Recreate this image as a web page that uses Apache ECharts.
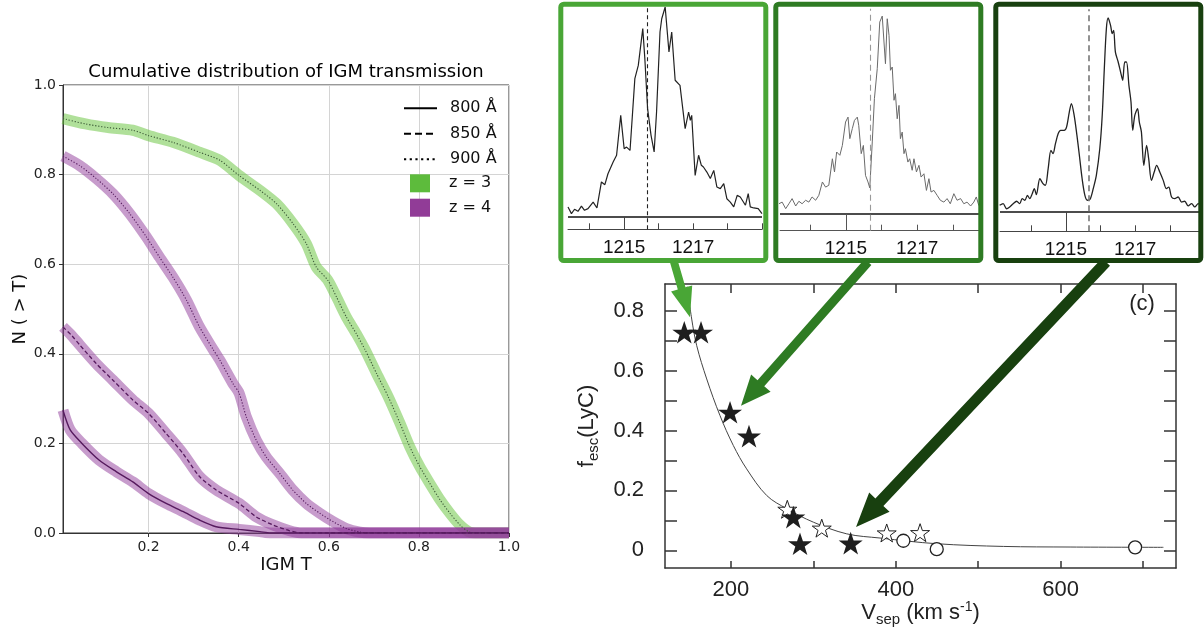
<!DOCTYPE html>
<html><head><meta charset="utf-8">
<script src="https://cdn.jsdelivr.net/npm/echarts@6/dist/echarts.min.js"></script>
<style>html,body{margin:0;padding:0;background:#fff}#c{width:1204px;height:639px}</style>
</head><body><div id="c"></div>
<script>
// ---------- Left panel: cumulative distribution of IGM transmission ----------
const xTicksLeft = [0.2, 0.4, 0.6, 0.8, 1.0];
const T_z3_900 = [0.01, 0.06, 0.11, 0.165, 0.2, 0.254, 0.313, 0.358, 0.401, 0.447, 0.484, 0.521, 0.55, 0.572, 0.598, 0.617, 0.639, 0.661, 0.68, 0.706, 0.732, 0.758, 0.78, 0.802, 0.824, 0.847, 0.869, 0.891, 0.91, 0.925, 1.0];
const N_z3_900 = [0.925, 0.913, 0.905, 0.899, 0.887, 0.872, 0.85, 0.832, 0.798, 0.765, 0.735, 0.69, 0.646, 0.594, 0.564, 0.527, 0.482, 0.445, 0.41, 0.356, 0.304, 0.245, 0.192, 0.148, 0.111, 0.074, 0.044, 0.018, 0.003, 0, 0];
const T_z4_900 = [0.01, 0.047, 0.084, 0.121, 0.158, 0.195, 0.224, 0.254, 0.284, 0.313, 0.343, 0.358, 0.387, 0.401, 0.417, 0.439, 0.461, 0.491, 0.52, 0.55, 0.58, 0.61, 0.639, 0.669, 0.69, 1.0];
const N_z4_900 = [0.841, 0.82, 0.791, 0.757, 0.713, 0.661, 0.616, 0.571, 0.52, 0.46, 0.41, 0.386, 0.334, 0.312, 0.259, 0.207, 0.17, 0.133, 0.096, 0.066, 0.044, 0.025, 0.01, 0.002, 0, 0];
const T_z4_850 = [0.01, 0.03, 0.047, 0.084, 0.121, 0.165, 0.2, 0.239, 0.276, 0.313, 0.35, 0.401, 0.439, 0.476, 0.513, 0.54, 1.0];
const N_z4_850 = [0.46, 0.44, 0.42, 0.378, 0.341, 0.297, 0.267, 0.222, 0.178, 0.126, 0.096, 0.066, 0.036, 0.018, 0.005, 0, 0];
const T_z4_800 = [0.01, 0.026, 0.052, 0.09, 0.128, 0.165, 0.2, 0.239, 0.276, 0.313, 0.35, 0.401, 0.447, 0.47, 1.0];
const N_z4_800 = [0.274, 0.23, 0.2, 0.163, 0.137, 0.114, 0.088, 0.066, 0.048, 0.029, 0.014, 0.008, 0.003, 0, 0];

// ---------- Right panel: f_esc vs V_sep ----------
const vTicks = [200, 300, 400, 500, 600, 700];
const vLabels = [200, 400, 600];
const fTicks = [0, 0.1, 0.2, 0.3, 0.4, 0.5, 0.6, 0.7, 0.8];
const fLabels = [0, 0.2, 0.4, 0.6, 0.8];
const V_filled = [143.4, 163.7, 198.9, 221.9, 275.7, 283.8, 345.3];
const F_filled = [0.728, 0.728, 0.461, 0.381, 0.111, 0.022, 0.024];
const V_open = [268.4, 310.2, 389.0, 429.5];
const F_open = [0.137, 0.074, 0.058, 0.059];
const V_circ = [409.2, 449.7, 690.4];
const F_circ = [0.032, 0.004, 0.01];
const V_fit = [147, 152.4, 158.5, 170.6, 186.7, 202.9, 219, 243.4, 267.7, 300, 340.5, 381, 449.7, 530.6, 611.5, 724.7];
const F_fit = [0.88, 0.772, 0.683, 0.572, 0.45, 0.35, 0.272, 0.183, 0.139, 0.094, 0.055, 0.041, 0.022, 0.013, 0.011, 0.010];
const arrowTargets = [[150.3, 0.778], [212.2, 0.483], [351.8, 0.078]];

// ---------- Inset spectra (wavelength in Å, normalised flux) ----------
const lyaLine = 1215.67;
const specTickLabels = [1215, 1217];
const wl1 = [1213.37,1213.47,1213.56,1213.66,1213.76,1213.85,1213.95,1214.10,1214.21,1214.34,1214.44,1214.53,1214.68,1214.78,1214.90,1215.00,1215.07,1215.17,1215.21,1215.31,1215.41,1215.54,1215.60,1215.68,1215.78,1215.87,1215.94,1216.04,1216.09,1216.19,1216.24,1216.30,1216.38,1216.48,1216.62,1216.77,1216.87,1216.92,1216.96,1217.06,1217.16,1217.24,1217.30,1217.40,1217.50,1217.60,1217.69,1217.79,1217.89,1217.98,1218.08,1218.18,1218.28,1218.37,1218.42,1218.52,1218.60,1218.66,1218.76,1218.89,1219.00];
const fl1 = [0.048,0.016,0.037,0.027,0.052,0.032,0.040,0.071,0.043,0.167,0.154,0.206,0.262,0.294,0.484,0.325,0.333,0.317,0.325,0.659,0.722,0.897,0.754,0.516,0.389,0.310,0.5,0.881,0.944,1.0,0.992,0.786,0.881,0.651,0.627,0.421,0.5,0.460,0.484,0.198,0.294,0.246,0.238,0.214,0.183,0.222,0.143,0.135,0.159,0.087,0.071,0.048,0.103,0.095,0.087,0.056,0.111,0.048,0.043,0.040,0.016];
const wl2 = [1213.12,1213.21,1213.31,1213.40,1213.49,1213.59,1213.68,1213.77,1213.87,1213.96,1214.05,1214.15,1214.24,1214.34,1214.43,1214.52,1214.62,1214.68,1214.74,1214.83,1214.90,1214.99,1215.06,1215.11,1215.18,1215.24,1215.32,1215.36,1215.43,1215.49,1215.55,1215.62,1215.67,1215.74,1215.80,1215.88,1215.95,1216.02,1216.07,1216.11,1216.16,1216.21,1216.25,1216.30,1216.35,1216.39,1216.44,1216.49,1216.53,1216.58,1216.63,1216.67,1216.74,1216.79,1216.86,1216.91,1216.98,1217.05,1217.11,1217.19,1217.26,1217.33,1217.39,1217.47,1217.56,1217.65,1217.75,1217.84,1217.93,1218.03,1218.12,1218.22,1218.31,1218.40,1218.50,1218.59,1218.66,1218.73,1218.82];
const fl2 = [0.050,0.058,0.026,0.050,0.075,0.039,0.062,0.050,0.067,0.058,0.083,0.067,0.091,0.156,0.131,0.140,0.269,0.205,0.302,0.286,0.334,0.448,0.472,0.367,0.416,0.456,0.472,0.432,0.294,0.334,0.188,0.156,0.127,0.351,0.562,0.708,0.935,0.964,0.968,0.732,0.951,0.870,0.700,0.716,0.554,0.586,0.464,0.529,0.367,0.399,0.294,0.318,0.253,0.269,0.213,0.269,0.205,0.237,0.180,0.196,0.115,0.172,0.107,0.115,0.091,0.067,0.058,0.075,0.050,0.099,0.067,0.075,0.050,0.058,0.039,0.058,0.083,0.042,0.039];
const wl3 = [1213.09,1213.19,1213.29,1213.38,1213.48,1213.58,1213.67,1213.74,1213.82,1213.89,1213.96,1214.03,1214.09,1214.15,1214.25,1214.34,1214.41,1214.49,1214.57,1214.63,1214.70,1214.78,1214.85,1214.95,1215.02,1215.10,1215.16,1215.24,1215.32,1215.39,1215.47,1215.55,1215.62,1215.70,1215.79,1215.88,1215.98,1216.05,1216.11,1216.17,1216.22,1216.29,1216.34,1216.38,1216.43,1216.51,1216.59,1216.64,1216.70,1216.75,1216.82,1216.88,1216.93,1216.99,1217.07,1217.12,1217.18,1217.25,1217.33,1217.39,1217.47,1217.55,1217.62,1217.71,1217.81,1217.90,1217.97,1218.05,1218.14,1218.24,1218.34,1218.43,1218.53,1218.63,1218.72,1218.82,1218.90];
const fl3 = [0.033,0.041,0.016,0.025,0.041,0.053,0.041,0.066,0.058,0.082,0.066,0.090,0.115,0.086,0.164,0.140,0.132,0.214,0.304,0.288,0.337,0.387,0.403,0.403,0.419,0.493,0.535,0.477,0.378,0.280,0.164,0.082,0.058,0.063,0.115,0.181,0.313,0.477,0.707,0.905,0.957,0.921,0.880,0.896,0.789,0.740,0.683,0.650,0.740,0.740,0.625,0.543,0.403,0.477,0.510,0.444,0.395,0.230,0.329,0.263,0.156,0.197,0.230,0.197,0.156,0.115,0.123,0.074,0.066,0.074,0.049,0.053,0.030,0.041,0.025,0.041,0.030];

// ---------------------------------------------------------------
const zip = (a, b) => a.map((v, i) => [v, b[i]]);
const LF = 'DejaVu Sans';
const RF = "'Liberation Sans', Arial, sans-serif";
const GREEN_BAND = '#61c135', PURPLE_BAND = '#8f3999';
const PURPLE_LINE = '#561a5e', GREEN_LINE = '#3b5836';
const BOX = ['#49a636', '#2e7b23', '#18400f'];
const STAR = 'path://M50,0 L61.8,35.1 L98.1,35.1 L68.8,56.7 L79.4,90.9 L50,69.5 L20.6,90.9 L31.2,56.7 L1.9,35.1 L38.2,35.1 Z';

const chart = echarts.init(document.getElementById('c'), null, { renderer: 'canvas' });

function band(name, T, N, color) {
  return { type: 'line', name: name, xAxisIndex: 0, yAxisIndex: 0, data: zip(T, N), symbol: 'none', smooth: 0.25,
    lineStyle: { color: color, width: 11, opacity: 0.5, cap: 'butt', join: 'round' }, z: 2, silent: true };
}
function center(name, T, N, color, type, w) {
  return { type: 'line', name: name, xAxisIndex: 0, yAxisIndex: 0, data: zip(T, N), symbol: 'none', smooth: 0.25,
    lineStyle: { color: color, width: w, type: type }, z: 3, silent: true };
}

const insets = [
  { wl: wl1, fl: fl1, left: 568, width: 194, top: 7, height: 222.3, min: 1213.37, max: 1219.0, ymin: -0.0586,
    ticks: [1214, 1215, 1216, 1217, 1218, 1219], line: '#222', lw: 1.2, dash: '#222', dashType: [4, 3], dw: 1.1, axis: '#444', smooth: false },
  { wl: wl2, fl: fl2, left: 780, width: 202, top: 8.7, height: 222, min: 1213.15, max: 1218.82, ymin: -0.0813,
    ticks: [1214, 1215, 1216, 1217, 1218], line: '#6a6a6a', lw: 1, dash: '#9a9a9a', dashType: [6, 4], dw: 1.1, axis: '#555', smooth: false },
  { wl: wl3, fl: fl3, left: 1000, width: 201, top: 9.3, height: 222, min: 1213.1, max: 1218.9, ymin: -0.0952,
    ticks: [1214, 1215, 1216, 1217, 1218], line: '#222', lw: 1.3, dash: '#777', dashType: [6, 4], dw: 1.6, axis: '#444', smooth: 0.3 }
];

const grids = [
  { left: 63, top: 85, width: 446, height: 448, show: true, borderColor: '#333', borderWidth: 1, outerBoundsMode: 'none' },
  { left: 665, top: 284, width: 511, height: 284, outerBoundsMode: 'none' }
];
const xAxes = [
  { type: 'value', gridIndex: 0, min: 0.01, max: 1.0,
    axisLine: { show: true, onZero: false, lineStyle: { color: '#333' } },
    axisTick: { show: true, length: 4, customValues: xTicksLeft, lineStyle: { color: '#333' } },
    axisLabel: { customValues: xTicksLeft, formatter: v => v.toFixed(1), fontSize: 14, color: '#222', fontFamily: LF, margin: 7 },
    splitLine: { show: true, lineStyle: { color: '#d4d4d4' } },
    name: 'IGM T', nameLocation: 'middle', nameGap: 23, nameMoveOverlap: false,
    nameTextStyle: { fontSize: 18, color: '#111', fontFamily: LF } },
  { type: 'value', gridIndex: 1, min: 120, max: 740, position: 'bottom',
    axisLine: { show: true, onZero: false, lineStyle: { color: '#333', width: 1.5 } },
    axisTick: { show: true, inside: true, length: 7, customValues: vTicks, lineStyle: { color: '#333', width: 1.5 } },
    axisLabel: { customValues: vLabels, fontSize: 22, color: '#222', fontFamily: RF, margin: 11 },
    splitLine: { show: false },
    name: '{a|V}{s|sep}{a| (km s}{p|-1}{a|)}', nameLocation: 'middle', nameGap: 31, nameMoveOverlap: false,
    nameTextStyle: { color: '#222', fontFamily: RF, rich: {
      a: { fontSize: 22, fontFamily: RF, color: '#222' },
      s: { fontSize: 15, fontFamily: RF, color: '#222', padding: [13, 0, 0, 0] },
      p: { fontSize: 14, fontFamily: RF, color: '#222', padding: [0, 0, 12, 0] } } } },
  { type: 'value', gridIndex: 1, min: 120, max: 740, position: 'top',
    axisLine: { show: true, onZero: false, lineStyle: { color: '#333', width: 1.5 } },
    axisTick: { show: true, inside: true, length: 9, customValues: vTicks, lineStyle: { color: '#333', width: 1.5 } },
    axisLabel: { show: false }, splitLine: { show: false } }
];
const yAxes = [
  { type: 'value', gridIndex: 0, min: 0, max: 1, interval: 0.2,
    axisLine: { show: true, onZero: false, lineStyle: { color: '#333' } },
    axisTick: { show: true, length: 4, lineStyle: { color: '#333' } },
    axisLabel: { formatter: v => v.toFixed(1), fontSize: 14, color: '#222', fontFamily: LF, margin: 7 },
    splitLine: { show: true, lineStyle: { color: '#d4d4d4' } },
    name: 'N ( > T)', nameLocation: 'middle', nameGap: 34, nameRotate: 90, nameMoveOverlap: false,
    nameTextStyle: { fontSize: 18, color: '#111', fontFamily: LF } },
  { type: 'value', gridIndex: 1, min: -0.059, max: 0.889, position: 'left',
    axisLine: { show: true, onZero: false, lineStyle: { color: '#333', width: 1.5 } },
    axisTick: { show: true, inside: true, length: 12, customValues: fTicks, lineStyle: { color: '#333', width: 1.5 } },
    axisLabel: { customValues: fLabels, formatter: v => (v === 0 ? '0' : v.toFixed(1)), fontSize: 22, color: '#222', fontFamily: RF, margin: 21 },
    splitLine: { show: false },
    name: '{a|f}{s|esc}{a|(LyC)}', nameLocation: 'middle', nameGap: 64, nameRotate: 90, nameMoveOverlap: false,
    nameTextStyle: { color: '#222', fontFamily: RF, rich: {
      a: { fontSize: 22, fontFamily: RF, color: '#222' },
      s: { fontSize: 15, fontFamily: RF, color: '#222', padding: [13, 0, 0, 0] } } } },
  { type: 'value', gridIndex: 1, min: -0.059, max: 0.889, position: 'right',
    axisLine: { show: true, onZero: false, lineStyle: { color: '#333', width: 1.5 } },
    axisTick: { show: true, inside: true, length: 12, customValues: fTicks, lineStyle: { color: '#333', width: 1.5 } },
    axisLabel: { show: false }, splitLine: { show: false } }
];

const series = [
  // legend-only entries
  { type: 'line', name: '800 Å', data: [], symbol: 'none', xAxisIndex: 0, yAxisIndex: 0, lineStyle: { color: '#000', width: 2.6, type: 'solid' }, itemStyle: { color: '#000' } },
  { type: 'line', name: '850 Å', data: [], symbol: 'none', xAxisIndex: 0, yAxisIndex: 0, lineStyle: { color: '#000', width: 2.6, type: [7, 4] }, itemStyle: { color: '#000' } },
  { type: 'line', name: '900 Å', data: [], symbol: 'none', xAxisIndex: 0, yAxisIndex: 0, lineStyle: { color: '#000', width: 2.6, type: [2.2, 3.5] }, itemStyle: { color: '#000' } },
  { type: 'line', name: 'z = 3', data: [], symbol: 'none', xAxisIndex: 0, yAxisIndex: 0, lineStyle: { color: '#5dbb3c' }, itemStyle: { color: '#5dbb3c' } },
  { type: 'line', name: 'z = 4', data: [], symbol: 'none', xAxisIndex: 0, yAxisIndex: 0, lineStyle: { color: '#913c97' }, itemStyle: { color: '#913c97' } },
  band('z3 900 band', T_z3_900, N_z3_900, GREEN_BAND),
  band('z4 900 band', T_z4_900, N_z4_900, PURPLE_BAND),
  band('z4 850 band', T_z4_850, N_z4_850, PURPLE_BAND),
  band('z4 800 band', T_z4_800, N_z4_800, PURPLE_BAND),
  center('z3 900', T_z3_900, N_z3_900, GREEN_LINE, [1.2, 1.8], 1.1),
  center('z4 900', T_z4_900, N_z4_900, PURPLE_LINE, [1.2, 1.8], 1.1),
  center('z4 850', T_z4_850, N_z4_850, PURPLE_LINE, [4, 2.5], 1.3),
  center('z4 800', T_z4_800, N_z4_800, PURPLE_LINE, 'solid', 1.4),
  { type: 'line', name: 'fit', xAxisIndex: 1, yAxisIndex: 1, data: zip(V_fit, F_fit), smooth: 0.35, symbol: 'none',
    lineStyle: { color: '#444', width: 1 }, z: 2, silent: true },
  { type: 'scatter', name: 'open stars', xAxisIndex: 1, yAxisIndex: 1, data: zip(V_open, F_open), symbol: STAR, symbolSize: 19,
    symbolKeepAspect: true, itemStyle: { color: '#fff', borderColor: '#222', borderWidth: 1, opacity: 1 }, z: 3 },
  { type: 'scatter', name: 'circles', xAxisIndex: 1, yAxisIndex: 1, data: zip(V_circ, F_circ), symbol: 'circle', symbolSize: 13,
    itemStyle: { color: '#fff', borderColor: '#222', borderWidth: 1.3, opacity: 1 }, z: 3 },
  { type: 'scatter', name: 'filled stars', xAxisIndex: 1, yAxisIndex: 1, data: zip(V_filled, F_filled), symbol: STAR, symbolSize: 24,
    symbolKeepAspect: true, itemStyle: { color: '#1e1e1e', opacity: 1 }, z: 4 }
];

insets.forEach((s, i) => {
  const gi = 2 + i, ai = 3 + i;
  grids.push({ left: s.left, top: s.top, width: s.width, height: s.height, outerBoundsMode: 'none' });
  xAxes.push({ type: 'value', gridIndex: gi, min: s.min, max: s.max,
    axisLine: { show: true, onZero: false, lineStyle: { color: s.axis, width: 1 } },
    axisTick: { show: true, inside: true, length: 6, customValues: s.ticks, lineStyle: { color: s.axis, width: 1 } },
    axisLabel: { customValues: specTickLabels, formatter: v => String(Math.round(v)), fontSize: 19, color: '#111', fontFamily: RF, margin: 9 },
    splitLine: { show: false } });
  yAxes.push({ type: 'value', gridIndex: gi, min: s.ymin, max: 1, show: false, splitLine: { show: false } });
  series.push({ type: 'line', name: 'spectrum ' + (i + 1), xAxisIndex: ai, yAxisIndex: ai, data: zip(s.wl, s.fl),
    symbol: 'none', smooth: s.smooth, lineStyle: { color: s.line, width: s.lw }, silent: true, z: 3,
    markLine: { silent: true, symbol: ['none', 'none'], label: { show: false }, animation: false,
      data: [
        { yAxis: 0, lineStyle: { color: '#111', width: 1.5, type: 'solid' } },
        { xAxis: lyaLine, lineStyle: { color: s.dash, width: s.dw, type: s.dashType } },
        [{ coord: [1215, s.ymin], lineStyle: { color: s.axis, width: 1, type: 'solid' } }, { coord: [1215, 0] }]
      ] } });
});

const option = {
  backgroundColor: '#fff',
  animation: false,
  title: [
    { text: 'Cumulative distribution of IGM transmission', left: 286, textAlign: 'center', top: 63, padding: 0,
      textStyle: { fontSize: 18, fontWeight: 'normal', fontFamily: LF, color: '#000' } },
    { text: '(c)', left: 1142, textAlign: 'center', top: 293, padding: 0,
      textStyle: { fontSize: 22, fontWeight: 'normal', fontFamily: RF, color: '#222' } }
  ],
  legend: [
    { orient: 'vertical', left: 403, top: 100.3, padding: 0, itemWidth: 33, itemHeight: 14, itemGap: 9.5, selectedMode: false,
      itemStyle: { color: 'rgba(0,0,0,0)', borderWidth: 0, opacity: 0 },
      data: ['800 Å', '850 Å', '900 Å'],
      textStyle: { fontSize: 16, fontFamily: LF, color: '#111', padding: [0, 0, 0, 8] } },
    { orient: 'vertical', left: 410, top: 174.3, padding: 0, itemWidth: 20, itemHeight: 18, itemGap: 6.4, selectedMode: false,
      data: [{ name: 'z = 3', icon: 'rect' }, { name: 'z = 4', icon: 'rect' }],
      textStyle: { fontSize: 16, fontFamily: LF, color: '#111', padding: [0, 0, 0, 14] } }
  ],
  grid: grids, xAxis: xAxes, yAxis: yAxes, series: series
};
chart.setOption(option);

// boxes and arrows (annotation graphics)
function arrowPts(s, t, sw, hw, hl) {
  const dx = t[0] - s[0], dy = t[1] - s[1], L = Math.hypot(dx, dy);
  const ux = dx / L, uy = dy / L, nx = -uy, ny = ux;
  const bx = t[0] - ux * hl, by = t[1] - uy * hl;
  return [[s[0] + nx * sw / 2, s[1] + ny * sw / 2], [bx + nx * sw / 2, by + ny * sw / 2], [bx + nx * hw / 2, by + ny * hw / 2],
    [t[0], t[1]], [bx - nx * hw / 2, by - ny * hw / 2], [bx - nx * sw / 2, by - ny * sw / 2], [s[0] - nx * sw / 2, s[1] - ny * sw / 2]];
}
const arrowStarts = [[674, 262], [868, 262], [1106, 262]];
const arrowDims = [[8, 22, 30], [9, 26, 30], [11, 28, 34]];
const graphics = [];
[[560.8, 205], [775.8, 205], [995.8, 205]].forEach((b, i) => {
  graphics.push({ type: 'rect', z: 100, silent: true, shape: { x: b[0], y: 4.2, width: b[1], height: 256.3, r: 3 },
    style: { fill: 'none', stroke: BOX[i], lineWidth: 5 } });
});
arrowTargets.forEach((t, i) => {
  const tip = chart.convertToPixel({ xAxisIndex: 1, yAxisIndex: 1 }, t);
  const d = arrowDims[i];
  graphics.push({ type: 'polygon', z: 90, silent: true, shape: { points: arrowPts(arrowStarts[i], tip, d[0], d[1], d[2]) },
    style: { fill: BOX[i] } });
});
chart.setOption({ graphic: graphics });
</script></body></html>
